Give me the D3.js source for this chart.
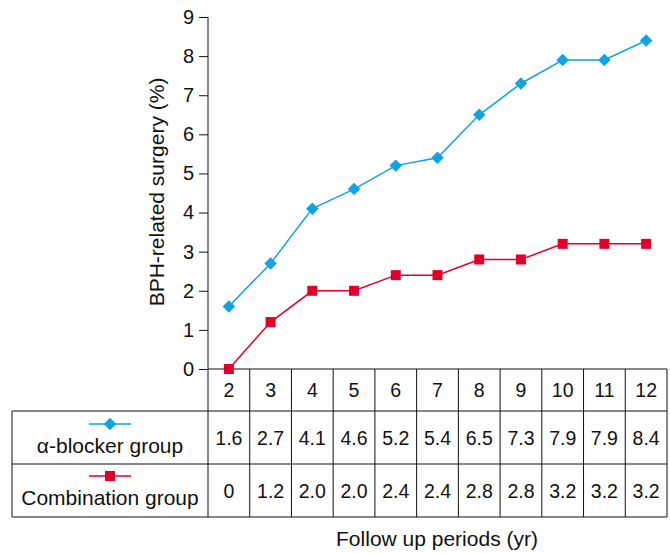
<!DOCTYPE html>
<html><head><meta charset="utf-8">
<script src="https://cdn.jsdelivr.net/npm/d3@7"></script>
<style>body{margin:0;background:#fff}svg{display:block}text{font-family:"Liberation Sans",Arial,sans-serif;fill:#111}</style>
</head><body>
<svg id="c" width="670" height="554"></svg>
<script>
const years = [2,3,4,5,6,7,8,9,10,11,12];
const alphaBlocker = [1.6,2.7,4.1,4.6,5.2,5.4,6.5,7.3,7.9,7.9,8.4];
const combination = [0,1.2,2.0,2.0,2.4,2.4,2.8,2.8,3.2,3.2,3.2];
const alphaLabels = ["1.6","2.7","4.1","4.6","5.2","5.4","6.5","7.3","7.9","7.9","8.4"];
const comboLabels = ["0","1.2","2.0","2.0","2.4","2.4","2.8","2.8","3.2","3.2","3.2"];
const yTicks = [0,1,2,3,4,5,6,7,8,9];
const seriesNames = ["\u03b1-blocker group","Combination group"];
const colors = ["#12a3e2","#e1002a"];

const svg = d3.select("#c");
const x = d3.scaleBand().domain(years).range([208,667]).paddingInner(0).paddingOuter(0);
const y = d3.scaleLinear().domain([0,9]).range([369,17]);
const cx = d => x(d)+x.bandwidth()/2;

// y axis
const yAxis = d3.axisLeft(y).tickValues(yTicks).tickSize(9).tickPadding(5);
const ga = svg.append("g").attr("transform","translate(208,0)").call(yAxis);
ga.select(".domain").remove();
ga.selectAll(".tick line").attr("stroke","#111").attr("stroke-width",1);
ga.selectAll(".tick text").style("font-size","20px").attr("fill","#111");
svg.append("line").attr("x1",208).attr("x2",208).attr("y1",17).attr("y2",517).attr("stroke","#111");

svg.append("text").attr("transform","translate(164,192) rotate(-90)").attr("text-anchor","middle")
  .style("font-size","21px").text("BPH-related surgery (%)");

// table
const rowTop=369, r1=411, r2=464, r3=517, left=12, right=x.range()[1];
const L = (x1,y1,x2,y2)=>svg.append("line").attr("x1",x1).attr("y1",y1).attr("x2",x2).attr("y2",y2).attr("stroke","#111").attr("stroke-width",1);
L(208,rowTop,right,rowTop);
L(left,r1,right,r1); L(left,r2,right,r2); L(left,r3,right,r3);
L(left,r1,left,r3);
years.forEach(d=>{ L(x(d)+x.bandwidth(),rowTop,x(d)+x.bandwidth(),r3); });

const tt = svg.append("g").style("font-size","19.5px").attr("text-anchor","middle");
years.forEach((d,i)=>{
  tt.append("text").attr("x",cx(d)).attr("y",(rowTop+r1)/2+7).text(d);
  tt.append("text").attr("x",cx(d)).attr("y",(r1+r2)/2+7).text(alphaLabels[i]);
  tt.append("text").attr("x",cx(d)).attr("y",(r2+r3)/2+7).text(comboLabels[i]);
});
const lx = (left+208)/2;
const lt = svg.append("g").style("font-size","21px").attr("text-anchor","middle");
lt.append("text").attr("x",lx).attr("y",453).text(seriesNames[0]);
lt.append("text").attr("x",lx).attr("y",505).text(seriesNames[1]);
// legend samples
const diamond = d3.symbol(d3.symbolSquare,78)();
svg.append("line").attr("x1",lx-21).attr("x2",lx+21).attr("y1",424).attr("y2",424).attr("stroke",colors[0]).attr("stroke-width",1.5);
svg.append("path").attr("d",diamond).attr("transform",`translate(${lx},424) rotate(45)`).attr("fill",colors[0]);
svg.append("line").attr("x1",lx-21).attr("x2",lx+21).attr("y1",476).attr("y2",476).attr("stroke",colors[1]).attr("stroke-width",1.5);
svg.append("rect").attr("x",lx-5).attr("y",471).attr("width",10).attr("height",10).attr("fill",colors[1]);

// lines
const line = d3.line().x((d,i)=>cx(years[i])).y(d=>y(d));
svg.append("path").datum(alphaBlocker).attr("d",line).attr("fill","none").attr("stroke",colors[0]).attr("stroke-width",1.5);
svg.append("path").datum(combination).attr("d",line).attr("fill","none").attr("stroke",colors[1]).attr("stroke-width",1.5);
svg.selectAll(".dia").data(alphaBlocker).enter().append("path")
  .attr("d",diamond).attr("transform",(d,i)=>`translate(${cx(years[i])},${y(d)}) rotate(45)`).attr("fill",colors[0]);
svg.selectAll(".sq").data(combination).enter().append("rect")
  .attr("x",(d,i)=>cx(years[i])-5).attr("y",d=>y(d)-5).attr("width",10).attr("height",10).attr("fill",colors[1]);

svg.append("text").attr("x",437).attr("y",546).attr("text-anchor","middle").style("font-size","21px").text("Follow up periods (yr)");
</script>
</body></html>
